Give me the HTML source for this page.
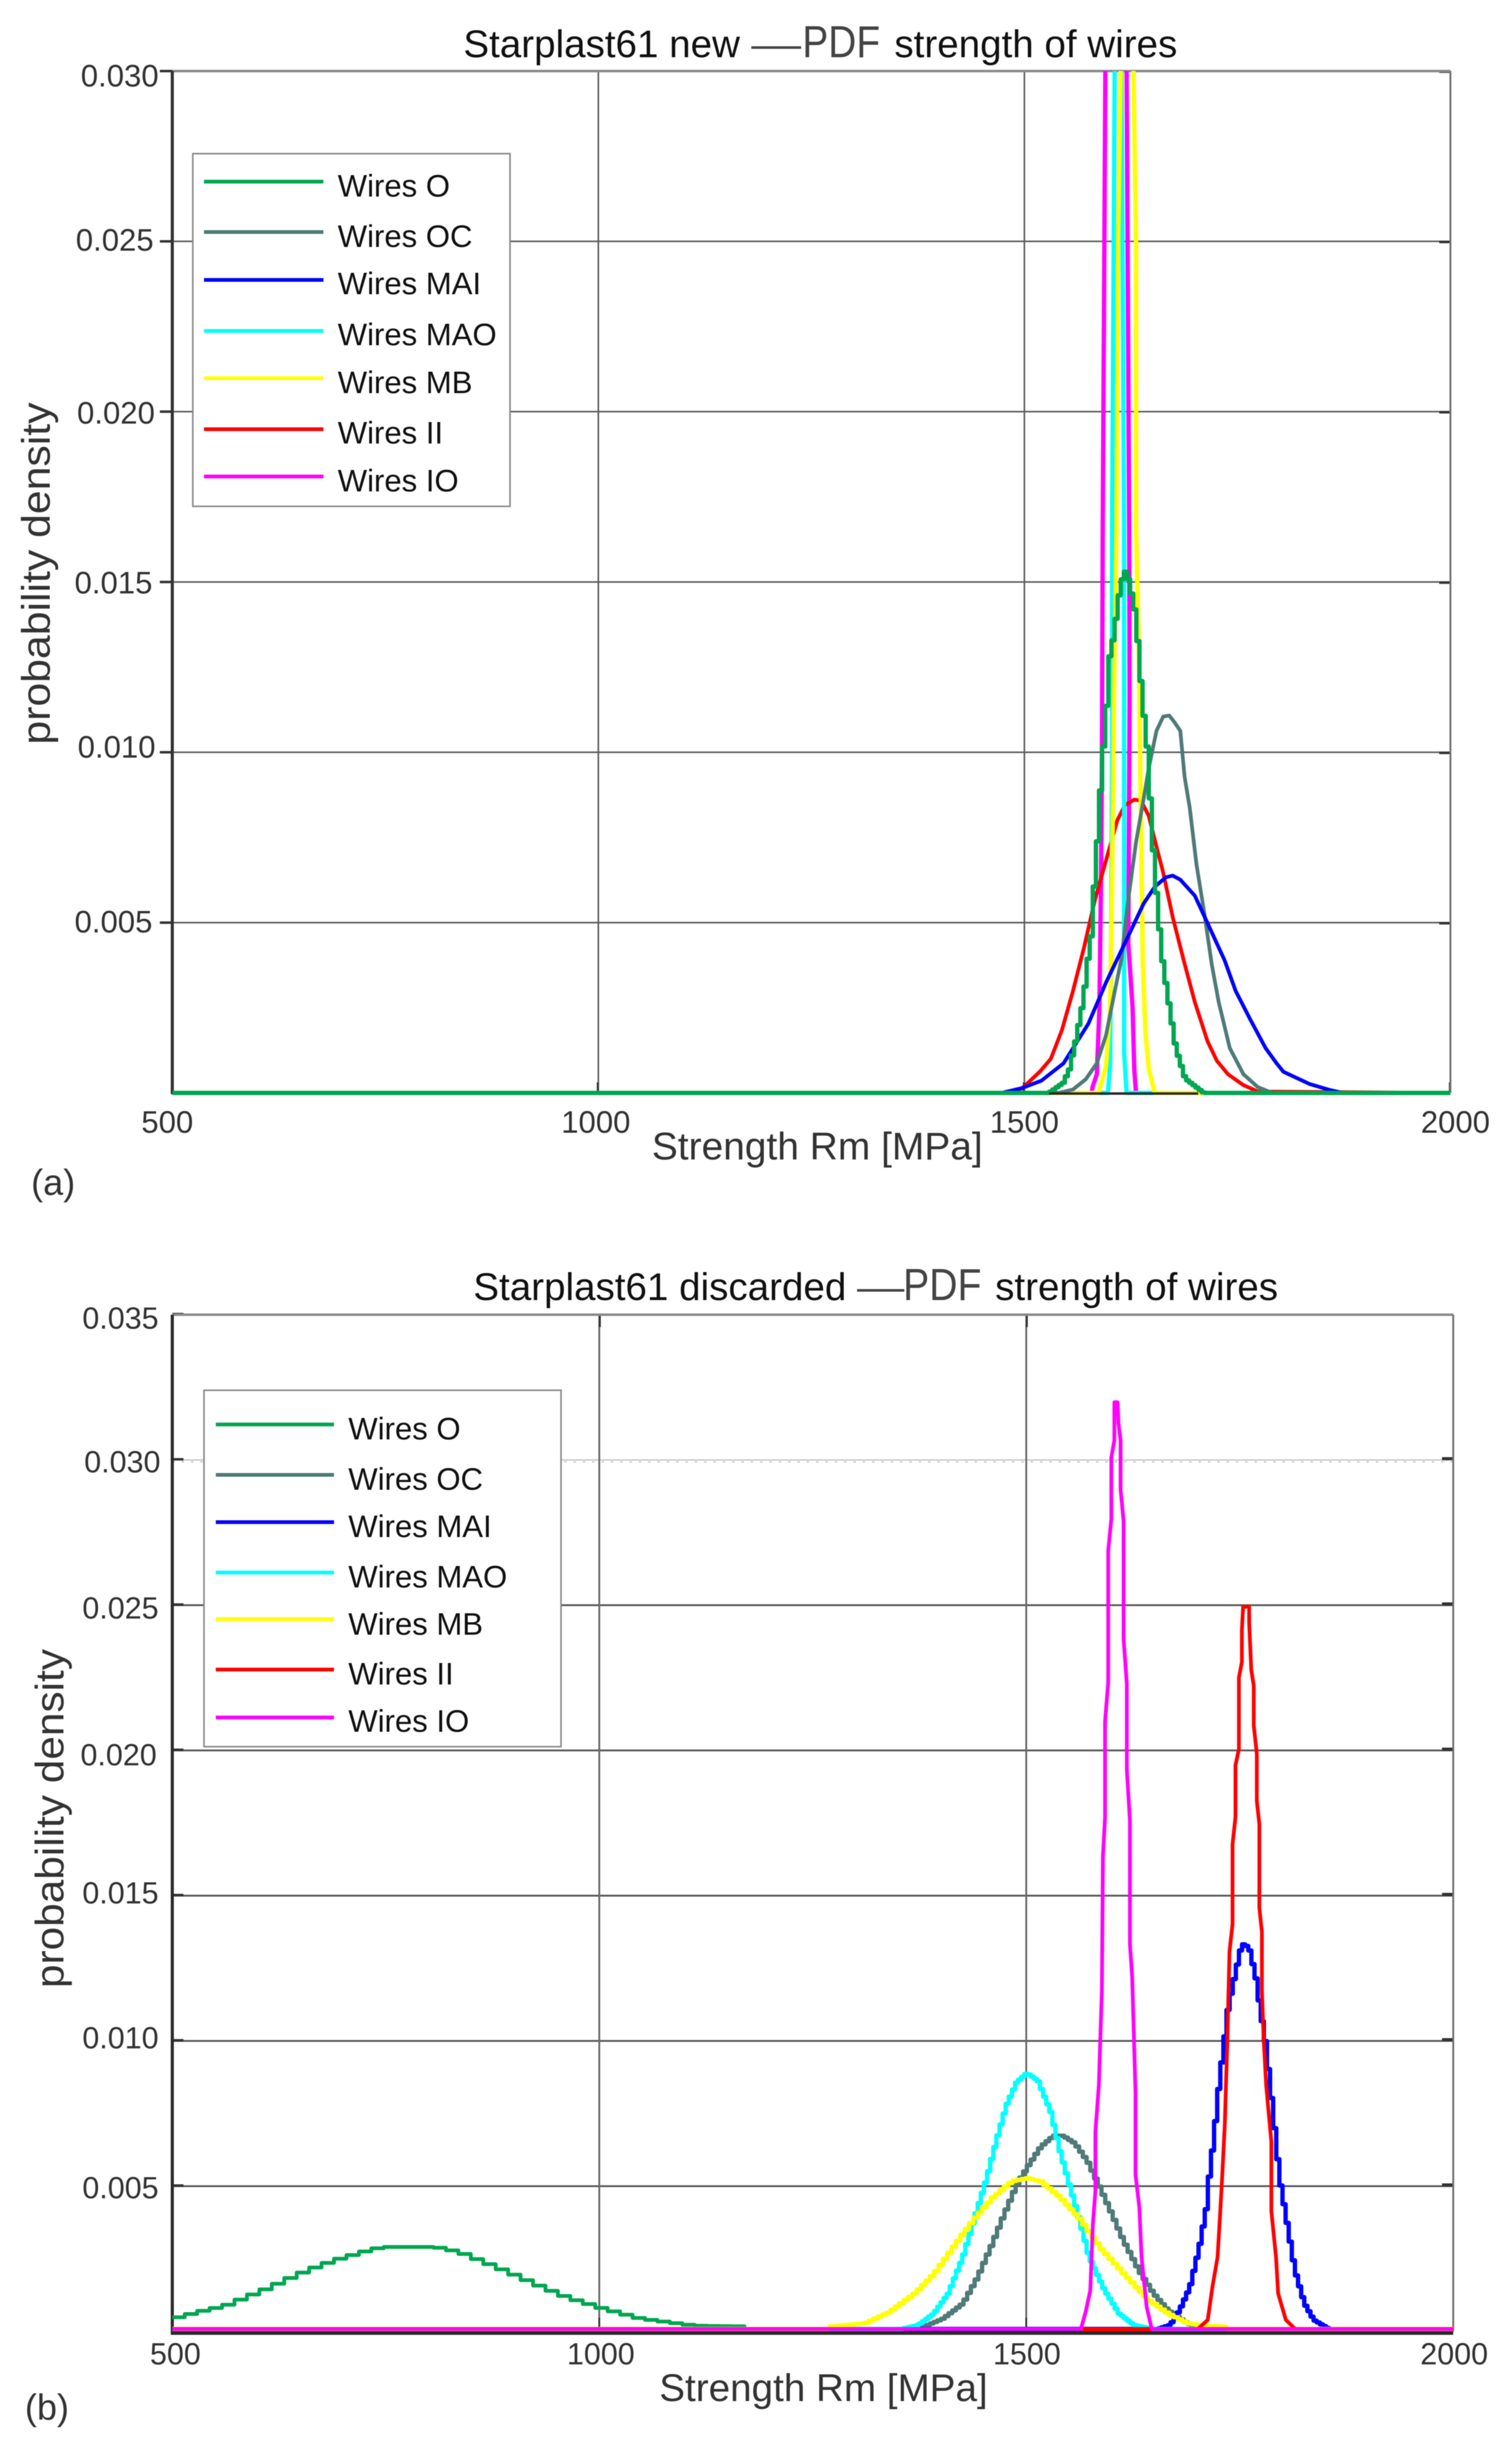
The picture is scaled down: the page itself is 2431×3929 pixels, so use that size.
<!DOCTYPE html>
<html lang="en">
<head>
<meta charset="utf-8">
<title>Starplast61 PDF strength of wires</title>
<style>
html,body{margin:0;padding:0;background:#fff;}
svg{display:block;filter:blur(0.6px);}
text{font-family:"Liberation Sans",Arial,sans-serif;}
</style>
</head>
<body>
<svg id="figure" xmlns="http://www.w3.org/2000/svg" width="2431" height="3929" viewBox="0 0 2431 3929">
  <defs>
    <clipPath id="clip-a"><rect x="277" y="114" width="2057" height="1648"/></clipPath>
    <clipPath id="clip-b"><rect x="277" y="2113" width="2061" height="1640"/></clipPath>
  </defs>
  <rect x="0" y="0" width="2431" height="3929" fill="#fff"/>

  <g id="panel-a">
    <g id="axes-a"></g>
    <g id="lines-a" clip-path="url(#clip-a)"></g>
    <text x="745" y="92" font-size="62" fill="#111">Starplast61 new<tspan x="1208" font-size="62" fill="#444" textLength="80" lengthAdjust="spacingAndGlyphs">—</tspan><tspan x="1290" font-size="72" fill="#444" textLength="125" lengthAdjust="spacingAndGlyphs">PDF</tspan><tspan x="1438">strength of wires</tspan></text>
    <text transform="translate(80,1197) rotate(-90)" font-size="64" fill="#333" textLength="550" lengthAdjust="spacingAndGlyphs">probability density</text>
    <text x="1048" y="1864" font-size="62" fill="#333" textLength="532" lengthAdjust="spacingAndGlyphs">Strength Rm [MPa]</text>
    <text x="50" y="1921" font-size="58" fill="#333">(a)</text>
    <g>
      <rect x="310" y="247" width="510" height="567" fill="#fff" stroke="#888" stroke-width="2.5"/>
      <g stroke-width="6" fill="none">
        <line x1="328" x2="520" y1="292" y2="292" stroke="#00a651"/>
        <line x1="328" x2="520" y1="373" y2="373" stroke="#4f7a78"/>
        <line x1="328" x2="520" y1="450" y2="450" stroke="#0000ff"/>
        <line x1="328" x2="520" y1="532" y2="532" stroke="#00ffff"/>
        <line x1="328" x2="520" y1="608" y2="608" stroke="#ffff00"/>
        <line x1="328" x2="520" y1="690" y2="690" stroke="#ff0000"/>
        <line x1="328" x2="520" y1="766" y2="766" stroke="#ff00ff"/>
      </g>
      <g font-size="50" fill="#111">
        <text x="543" y="316">Wires O</text>
        <text x="543" y="397">Wires OC</text>
        <text x="543" y="473">Wires MAI</text>
        <text x="543" y="555">Wires MAO</text>
        <text x="543" y="632">Wires MB</text>
        <text x="543" y="713">Wires II</text>
        <text x="543" y="790">Wires IO</text>
      </g>
    </g>
  </g>

  <g id="panel-b">
    <g id="axes-b"></g>
    <g id="lines-b" clip-path="url(#clip-b)"></g>
    <text x="761" y="2090" font-size="62" fill="#111">Starplast61 discarded<tspan x="1378" font-size="62" fill="#444" textLength="76" lengthAdjust="spacingAndGlyphs">—</tspan><tspan x="1452" font-size="72" fill="#444" textLength="126" lengthAdjust="spacingAndGlyphs">PDF</tspan><tspan x="1600">strength of wires</tspan></text>
    <text transform="translate(102,3196) rotate(-90)" font-size="64" fill="#333" textLength="545" lengthAdjust="spacingAndGlyphs">probability density</text>
    <text x="1060" y="3860" font-size="62" fill="#333" textLength="528" lengthAdjust="spacingAndGlyphs">Strength Rm [MPa]</text>
    <text x="40" y="3890" font-size="58" fill="#333">(b)</text>
    <g>
      <rect x="328" y="2235" width="574" height="573" fill="#fff" stroke="#888" stroke-width="2.5"/>
      <g stroke-width="6" fill="none">
        <line x1="347" x2="537" y1="2290" y2="2290" stroke="#00a651"/>
        <line x1="347" x2="537" y1="2371" y2="2371" stroke="#4f7a78"/>
        <line x1="347" x2="537" y1="2447" y2="2447" stroke="#0000ff"/>
        <line x1="347" x2="537" y1="2528" y2="2528" stroke="#00ffff"/>
        <line x1="347" x2="537" y1="2603" y2="2603" stroke="#ffff00"/>
        <line x1="347" x2="537" y1="2684" y2="2684" stroke="#ff0000"/>
        <line x1="347" x2="537" y1="2761" y2="2761" stroke="#ff00ff"/>
      </g>
      <g font-size="50" fill="#111">
        <text x="560" y="2314">Wires O</text>
        <text x="560" y="2395">Wires OC</text>
        <text x="560" y="2471">Wires MAI</text>
        <text x="560" y="2552">Wires MAO</text>
        <text x="560" y="2628">Wires MB</text>
        <text x="560" y="2708">Wires II</text>
        <text x="560" y="2784">Wires IO</text>
      </g>
    </g>
  </g>
</svg>

<script>
// ---------- tick values ----------
const xTickValues = [500, 1000, 1500, 2000];
const yTickValuesA = [0.005, 0.010, 0.015, 0.020, 0.025, 0.030];
const yTickValuesB = [0.005, 0.010, 0.015, 0.020, 0.025, 0.030, 0.035];

// ---------- panel (a) series: strength [MPa] / probability density ----------
const aOStrength = [500,1527,1544,1551,1559,1568,1572,1577,1579,1583,1585,1588,1592,1596,1598,1605,1607,1614,1618,1622,1629,1633,1637,1642,1646,1650,1655,1661,1668,1676,1687,1709,2000];
const aODensity = [0,0,0.0003,0.00068,0.00158,0.0028,0.00376,0.00466,0.00569,0.00684,0.008,0.00902,0.01044,0.01172,0.01275,0.01365,0.01429,0.01519,0.01535,0.01493,0.01403,0.01275,0.01146,0.01031,0.00864,0.00697,0.0053,0.00376,0.00261,0.00132,0.00042,0,0];

const aOCStrength = [500,1540,1557,1572,1585,1596,1605,1614,1622,1631,1640,1646,1655,1663,1670,1676,1683,1688,1694,1702,1711,1720,1728,1741,1757,1774,1791,2000];
const aOCDensity = [0,0,0.0001,0.0004,0.00087,0.00171,0.00286,0.00395,0.00569,0.00736,0.00864,0.00954,0.01063,0.01105,0.01108,0.01089,0.01063,0.00928,0.00838,0.00671,0.0053,0.00376,0.00267,0.00132,0.00055,0.00017,0,0];

const aMAIStrength = [500,1473,1497,1520,1546,1575,1596,1618,1640,1653,1666,1674,1683,1700,1715,1735,1748,1765,1783,1796,1804,1835,1858,1874,2000];
const aMAIDensity = [0,0,0.00014,0.00036,0.00087,0.00203,0.00325,0.0044,0.00556,0.00605,0.00633,0.00638,0.00626,0.00579,0.00498,0.00389,0.00299,0.00216,0.00132,0.00087,0.00062,0.00026,0.00009,0,0];

const aMAOStrength = [500,1598,1600.6,1602,1603,1603,1606,1611,1614,1617,1617,1617,1620,2000];
const aMAODensity = [0,0,0.0008,0.005,0.0102,0.0166,0.03,0.06,0.03,0.0166,0.0076,0.0012,0,0];

const aMBStrength = [500,1587,1596,1600.6,1603,1605,1608,1610,1613,1620,1628,1631,1631,1634,1637,1639,1642,1646,1653,2000];
const aMBDensity = [0,0,0.0008,0.0025,0.0063,0.0115,0.0166,0.025,0.03,0.06,0.03,0.025,0.0166,0.0134,0.0076,0.0038,0.0018,0.0007,0,0];

const aIIStrength = [500,1473,1497,1518,1531,1544,1557,1570,1583,1596,1609,1618,1629,1637,1646,1655,1663,1674,1687,1700,1715,1726,1739,1757,1774,2000];
const aIIDensity = [0,0,0.00013,0.00062,0.001,0.00184,0.00299,0.00427,0.00569,0.00684,0.008,0.00845,0.00861,0.00858,0.00813,0.00723,0.00646,0.00517,0.00389,0.00267,0.00151,0.00094,0.00055,0.00023,0.00004,0];

const aIOStrength = [500,1579,1580,1585,1588,1590,1591,1592,1595,1606,1620,1623,1623.5,1622,1627,1629,1631,2000];
const aIODensity = [0,0,0.00017,0.00055,0.00247,0.00633,0.01,0.0166,0.03,0.06,0.03,0.0166,0.0115,0.0044,0.0025,0.0007,0,0];

// ---------- panel (b) series: strength [MPa] / probability density ----------
const bOStrength = [500,502,522,540,558,582,606,627,655,685,715,739,802,830,860,890,920,956,999,1041,1077,1107,1159,1160,2000];
const bODensity = [0.0004,0.0004,0.00058,0.00069,0.00083,0.00112,0.00141,0.0017,0.00206,0.00238,0.00264,0.00282,0.00282,0.00264,0.00228,0.00191,0.00152,0.00108,0.00069,0.00036,0.00022,0.00011,0.00009,0,0];

const bOCStrength = [500,1372,1401,1424,1441,1458,1472,1487,1501,1515,1530,1541,1555,1570,1581,1595,1612,1630,1647,1664,1687,1704,2000];
const bOCDensity = [0,0,0.00036,0.00088,0.00178,0.00292,0.00394,0.00497,0.00565,0.00627,0.00665,0.00665,0.00639,0.00576,0.00508,0.00417,0.00303,0.00201,0.00122,0.00065,0.00019,0,0];

const bMAIStrength = [500,1652,1667,1678,1690,1701,1710,1712,1718,1724,1730,1735,1744,1750,1754,1760,1767,1773,1778,1784,1790,1795,1804,1813,1824,1835,1853,2000];
const bMAIDensity = [0,0,0.00014,0.00065,0.00144,0.00281,0.00428,0.00508,0.00656,0.00838,0.00985,0.0111,0.01235,0.01315,0.01328,0.01303,0.01213,0.01088,0.00997,0.00838,0.00667,0.00519,0.0036,0.00201,0.00088,0.00031,0,0];

const bMAOStrength = [500,1352,1372,1390,1407,1424,1438,1452,1464,1475,1487,1499,1512,1527,1538,1550,1561,1572,1590,1607,1624,1647,2000];
const bMAODensity = [0,0,0.00014,0.00053,0.00122,0.00247,0.00383,0.00519,0.00656,0.00769,0.00849,0.00881,0.00855,0.00747,0.0061,0.00485,0.00372,0.00247,0.00133,0.00053,0.00014,0,0];

const bMBStrength = [500,1265,1266,1309,1338,1367,1390,1412,1435,1458,1481,1499,1515,1538,1561,1584,1612,1641,1664,1687,1710,1732,1733,2000];
const bMBDensity = [0,0,0.00008,0.00019,0.00059,0.00122,0.0019,0.00281,0.00372,0.00451,0.00508,0.00519,0.00508,0.00451,0.00377,0.00281,0.0019,0.00099,0.00053,0.00019,0.0001,0.00008,0,0];

const bIIStrength = [500,1701,1712.5,1718,1724,1727,1729.6,1732.5,1735.4,1738,1741.6,1741.6,1745,1745,1749,1749,1752.5,1752.5,1754,1761,1761,1763.5,1766.4,1766.4,1770,1770,1773,1773,1776,1776,1778,1781,1787,1787,1792.5,1795,1804,1815,2000];
const bIIDensity = [0,0,0.00031,0.00144,0.00247,0.00395,0.00531,0.00702,0.00985,0.01299,0.01394,0.01668,0.01762,0.0194,0.01996,0.02242,0.02296,0.02405,0.02486,0.02486,0.02433,0.02268,0.02214,0.02077,0.01981,0.01818,0.01737,0.0145,0.01366,0.01165,0.0100,0.00838,0.00644,0.00406,0.00247,0.00122,0.00031,0,0];

const bIOStrength = [500,1564,1569.6,1575,1578,1581,1581,1585,1588.6,1589.8,1592.3,1592.3,1596,1596,1599.6,1599.6,1603.2,1603.2,1607,1608,1610.5,1610.5,1614,1614,1617.8,1617.8,1621.4,1621.4,1624,1628,1628,1632.5,1635,1641,1647,2000];
const bIODensity = [0,0,0.00059,0.00133,0.0036,0.00474,0.00678,0.00838,0.01165,0.01627,0.01762,0.0209,0.02227,0.02679,0.02788,0.02999,0.0306,0.0319,0.0319,0.03116,0.0306,0.0289,0.0278,0.02377,0.0222,0.01927,0.0175,0.01325,0.01213,0.00815,0.00531,0.00417,0.00247,0.00076,0,0];

// ---------- axis functions ----------
const xA = v => 277 + (v - 500) * 1.37;
const yA = v => 1757 - (v / 0.005) * 273.8;
const xB = v => 277 + (v - 500) * 1.373;
const yB = v => 3748 - (v / 0.005) * 233.5;

const SVG_NS = 'http://www.w3.org/2000/svg';
function mk(tag, parent, attrs) {
  const el = document.createElementNS(SVG_NS, tag);
  for (const k in attrs) el.setAttribute(k, attrs[k]);
  parent.appendChild(el);
  return el;
}

// Builds path data; stairPx > 0 renders the series as a histogram-like staircase.
function linePath(xs, ys, xf, yf, stairPx) {
  const px = xs.map(xf), py = ys.map(yf);
  if (!stairPx) {
    return px.map((x, i) => (i ? 'L' : 'M') + x.toFixed(1) + ' ' + py[i].toFixed(1)).join('');
  }
  let d = 'M' + px[0].toFixed(1) + ' ' + py[0].toFixed(1);
  let seg = 0;
  for (let gx = px[0] + stairPx; gx < px[px.length - 1]; gx += stairPx) {
    while (seg < px.length - 2 && px[seg + 1] < gx) seg++;
    const span = px[seg + 1] - px[seg];
    const t = span > 0 ? (gx - px[seg]) / span : 1;
    const y = py[seg] + (py[seg + 1] - py[seg]) * Math.min(1, Math.max(0, t));
    d += 'H' + gx.toFixed(1) + 'V' + y.toFixed(1);
  }
  d += 'H' + px[px.length - 1].toFixed(1) + 'V' + py[py.length - 1].toFixed(1);
  return d;
}

function drawSeries(parent, name, xs, ys, xf, yf, color, width, stairPx) {
  const p = mk('path', parent, {
    d: linePath(xs, ys, xf, yf, stairPx),
    fill: 'none', stroke: color, 'stroke-width': width, 'stroke-linejoin': 'round'
  });
  
  
}

const COL = { O: '#00a651', OC: '#4f7a78', MAI: '#0000ff', MAO: '#00ffff', MB: '#ffff00', II: '#ff0000', IO: '#ff00ff' };

// ---------- panel (a) ----------
(function () {
  const ax = document.getElementById('axes-a');
  const left = xA(500), right = xA(2000), top = yA(0.03), bottom = yA(0);
  const endX = [245, 250, 245, 249, 247, 255];
  const baseY = [1499, 1218, 954, 681, 403, 139];
  yTickValuesA.forEach((v, i) => {
    const g = mk('line', ax, { x1: left, x2: right, y1: yA(v), y2: yA(v), stroke: '#5a5a5a', 'stroke-width': 2.5 });
    
    
    const t = mk('line', ax, { x1: 257, x2: left, y1: yA(v), y2: yA(v), stroke: '#333', 'stroke-width': 4 });
    
    
    const r = mk('line', ax, { x1: right - 18, x2: right, y1: yA(v) + 1, y2: yA(v) + 1, stroke: '#333', 'stroke-width': 4 });
    
    
    const lab = mk('text', ax, { x: endX[i], y: baseY[i], 'text-anchor': 'end', 'font-size': 50, fill: '#333' });
    lab.textContent = v.toFixed(3);
    
    
  });
  const centerX = [269, 958, 1647, 2340];
  xTickValues.forEach((v, i) => {
    if (v > 500 && v < 2000) {
      const g = mk('line', ax, { x1: xA(v), x2: xA(v), y1: top, y2: bottom, stroke: '#5a5a5a', 'stroke-width': 2.5 });
      
      
    }
    if (v > 500) {
      const t = mk('line', ax, { x1: xA(v) - 1, x2: xA(v) - 1, y1: bottom - 17, y2: bottom, stroke: '#333', 'stroke-width': 3 });
      
      
    }
    const lab = mk('text', ax, { x: centerX[i], y: 1821, 'text-anchor': 'middle', 'font-size': 50, fill: '#333' });
    lab.textContent = String(v);
    
    
  });
  const topSpine = mk('line', ax, { x1: left, x2: right, y1: top, y2: top, stroke: '#8a8a8a', 'stroke-width': 4 });
  
  
  const rightSpine = mk('line', ax, { x1: right, x2: right, y1: top, y2: bottom, stroke: '#707070', 'stroke-width': 3 });
  
  
  const leftSpine = mk('line', ax, { x1: left, x2: left, y1: top, y2: bottom + 2, stroke: '#333', 'stroke-width': 5 });
  
  

  const ln = document.getElementById('lines-a');
  drawSeries(ln, 'series-wires-io', aIOStrength, aIODensity, xA, yA, COL.IO, 7, 0);
  drawSeries(ln, 'series-wires-ii', aIIStrength, aIIDensity, xA, yA, COL.II, 6, 0);
  drawSeries(ln, 'series-wires-mao', aMAOStrength, aMAODensity, xA, yA, COL.MAO, 7, 0);
  drawSeries(ln, 'series-wires-mb', aMBStrength, aMBDensity, xA, yA, COL.MB, 7, 0);
  drawSeries(ln, 'series-wires-oc', aOCStrength, aOCDensity, xA, yA, COL.OC, 6, 0);
  drawSeries(ln, 'series-wires-mai', aMAIStrength, aMAIDensity, xA, yA, COL.MAI, 6, 0);
  drawSeries(ln, 'series-wires-o', aOStrength, aODensity, xA, yA, COL.O, 7, 5);
  const base = mk('line', ln, { x1: xA(1529), x2: xA(1704), y1: bottom + 1, y2: bottom + 1, stroke: '#2a2a2a', 'stroke-width': 4 });
  
  
})();

// ---------- panel (b) ----------
(function () {
  const ax = document.getElementById('axes-b');
  const left = xB(500), right = xB(2000), top = yB(0.035), bottom = yB(0);
  const endX = [255, 255, 255, 252, 255, 258, 255];
  const baseY = [3534, 3293, 3060, 2838, 2602, 2367, 2136];
  yTickValuesB.forEach((v, i) => {
    if (v < 0.035) {
      const faint = Math.abs(v - 0.03) < 1e-9;
      const g = mk('line', ax, {
        x1: left, x2: right, y1: yB(v), y2: yB(v),
        stroke: faint ? '#c4c4c4' : '#5a5a5a', 'stroke-width': faint ? 2 : 3
      });
      
      
      if (faint) {
        const dots = mk('line', ax, { x1: left, x2: right, y1: yB(v) + 3, y2: yB(v) + 3, stroke: '#c4c4c4', 'stroke-width': 2, 'stroke-dasharray': '4 11' });
        
        
      }
    }
    const t = mk('line', ax, { x1: left, x2: left + 18, y1: yB(v) - 1, y2: yB(v) - 1, stroke: '#333', 'stroke-width': 4 });
    
    
    if (v < 0.035) {
      const r = mk('line', ax, { x1: right - 18, x2: right, y1: yB(v) - 2, y2: yB(v) - 2, stroke: '#333', 'stroke-width': 5 });
      
      
    }
    const lab = mk('text', ax, { x: endX[i], y: baseY[i], 'text-anchor': 'end', 'font-size': 49, fill: '#333' });
    lab.textContent = v.toFixed(3);
    
    
  });
  const centerX = [282, 966, 1651, 2338];
  xTickValues.forEach((v, i) => {
    if (v > 500 && v < 2000) {
      const g = mk('line', ax, { x1: xB(v), x2: xB(v), y1: top, y2: bottom, stroke: '#6a6a6a', 'stroke-width': 3 });
      
      
      const tt = mk('line', ax, { x1: xB(v) + 1, x2: xB(v) + 1, y1: top, y2: top + 20, stroke: '#333', 'stroke-width': 3 });
      
      
    }
    if (v > 500) {
      const t = mk('line', ax, { x1: xB(v), x2: xB(v), y1: bottom - 22, y2: bottom, stroke: '#333', 'stroke-width': 3 });
      
      
    }
    const lab = mk('text', ax, { x: centerX[i], y: 3801, 'text-anchor': 'middle', 'font-size': 49, fill: '#333' });
    lab.textContent = String(v);
    
    
  });
  const topSpine = mk('line', ax, { x1: left, x2: right, y1: top, y2: top, stroke: '#8a8a8a', 'stroke-width': 4 });
  
  
  const rightSpine = mk('line', ax, { x1: right, x2: right, y1: top, y2: bottom, stroke: '#707070', 'stroke-width': 3 });
  
  
  const leftSpine = mk('line', ax, { x1: left, x2: left, y1: top, y2: bottom + 5, stroke: '#2a2a2a', 'stroke-width': 5 });
  
  
  const bottomSpine = mk('line', ax, { x1: left - 2, x2: right, y1: bottom + 2, y2: bottom + 2, stroke: '#2a2a2a', 'stroke-width': 7 });
  
  

  const ln = document.getElementById('lines-b');
  ln.setAttribute('transform', 'translate(0,-4)');
  ln.removeAttribute('clip-path');
  const clipped = mk('g', ln, { 'clip-path': 'url(#clip-b)' });
  
  
  drawSeries(clipped, 'series-wires-o', bOStrength, bODensity, xB, yB, COL.O, 6, 20);
  drawSeries(clipped, 'series-wires-oc', bOCStrength, bOCDensity, xB, yB, COL.OC, 7, 6);
  drawSeries(clipped, 'series-wires-mai', bMAIStrength, bMAIDensity, xB, yB, COL.MAI, 7, 5);
  drawSeries(clipped, 'series-wires-mao', bMAOStrength, bMAODensity, xB, yB, COL.MAO, 7, 5);
  drawSeries(clipped, 'series-wires-mb', bMBStrength, bMBDensity, xB, yB, COL.MB, 7, 7);
  const redBase = mk('line', clipped, { x1: xB(1565), x2: xB(1647), y1: bottom + 1, y2: bottom + 1, stroke: COL.II, 'stroke-width': 6 });
  
  
  drawSeries(clipped, 'series-wires-ii', bIIStrength, bIIDensity, xB, yB, COL.II, 6, 0);
  drawSeries(clipped, 'series-wires-io', bIOStrength, bIODensity, xB, yB, COL.IO, 6, 0);
})();
</script>
</body>
</html>
